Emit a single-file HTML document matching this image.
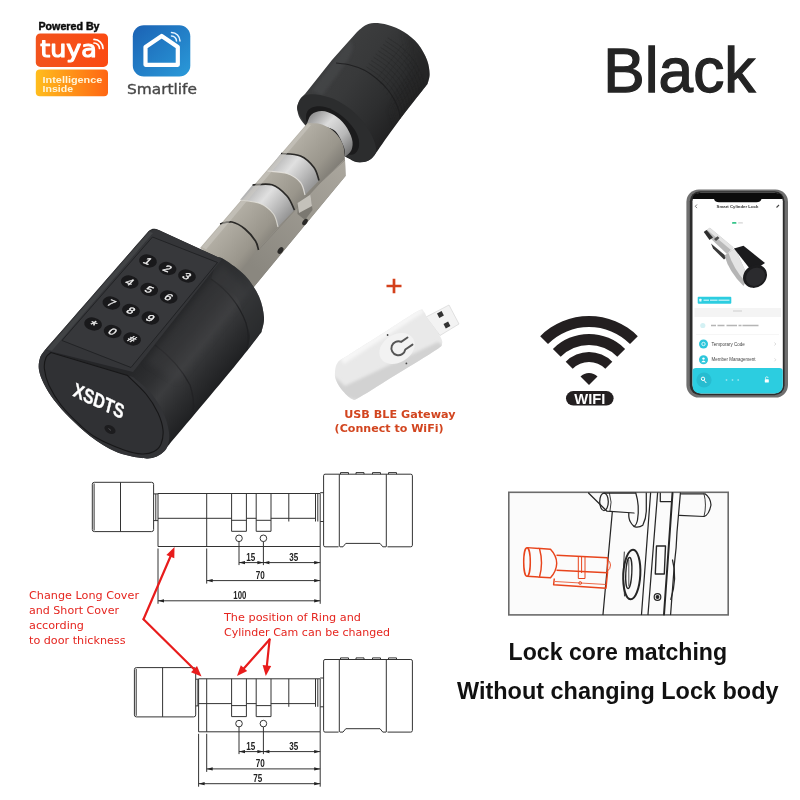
<!DOCTYPE html>
<html lang="en"><head><meta charset="utf-8"><title>Black smart cylinder lock</title>
<style>
html,body{margin:0;padding:0;background:#fff;}
body{width:800px;height:800px;overflow:hidden;}
svg{display:block;}
text{font-family:"Liberation Sans",sans-serif;}
.dj{font-family:"DejaVu Sans","Liberation Sans",sans-serif;}
.red{fill:#e5251f;}
.ln{stroke:#333;stroke-width:1;fill:none;}
</style></head><body>
<svg width="800" height="800" viewBox="0 0 800 800">
<defs>
<linearGradient id="gTuya" x1="0" y1="0" x2="1" y2="0"><stop offset="0" stop-color="#f2531d"/><stop offset="1" stop-color="#fb4a12"/></linearGradient>
<linearGradient id="gInt" x1="0" y1="0" x2="1" y2="0"><stop offset="0" stop-color="#ffbd1d"/><stop offset="1" stop-color="#ff6613"/></linearGradient>
<linearGradient id="gSl" x1="0" y1="0" x2="1" y2="1"><stop offset="0" stop-color="#1b62b4"/><stop offset="1" stop-color="#2a9ad9"/></linearGradient>
<linearGradient id="gCyl" gradientUnits="userSpaceOnUse" x1="250" y1="170" x2="300" y2="212"><stop offset="0" stop-color="#c2bfb7"/><stop offset="0.3" stop-color="#b0aca2"/><stop offset="0.75" stop-color="#9a968c"/><stop offset="1" stop-color="#7f7c75"/></linearGradient>
<linearGradient id="gPol" gradientUnits="userSpaceOnUse" x1="250" y1="170" x2="300" y2="212"><stop offset="0" stop-color="#959595"/><stop offset="0.22" stop-color="#b9b9b9"/><stop offset="0.45" stop-color="#e0e0e0"/><stop offset="0.7" stop-color="#b8b8b8"/><stop offset="1" stop-color="#858585"/></linearGradient>
<linearGradient id="gNeck" gradientUnits="userSpaceOnUse" x1="312" y1="112" x2="352" y2="150"><stop offset="0" stop-color="#8a8a8a"/><stop offset="0.35" stop-color="#dcdcdc"/><stop offset="0.7" stop-color="#b8b8b8"/><stop offset="1" stop-color="#767676"/></linearGradient>
<linearGradient id="gFlat" gradientUnits="userSpaceOnUse" x1="345" y1="160" x2="256" y2="270"><stop offset="0" stop-color="#aba79e"/><stop offset="1" stop-color="#8a877f"/></linearGradient>
<linearGradient id="gKnob" gradientUnits="userSpaceOnUse" x1="335" y1="60" x2="405" y2="112"><stop offset="0" stop-color="#3c3d3e"/><stop offset="0.3" stop-color="#38393a"/><stop offset="0.7" stop-color="#2d2e2f"/><stop offset="1" stop-color="#222223"/></linearGradient>
<linearGradient id="gBody" gradientUnits="userSpaceOnUse" x1="180" y1="310" x2="240" y2="360"><stop offset="0" stop-color="#252628"/><stop offset="0.3" stop-color="#2f3032"/><stop offset="0.5" stop-color="#3b3c3e"/><stop offset="0.75" stop-color="#2c2d2f"/><stop offset="1" stop-color="#1f2022"/></linearGradient>
<filter id="b1" x="-20%" y="-20%" width="140%" height="140%"><feGaussianBlur stdDeviation="0.6"/></filter>
<filter id="b2" x="-20%" y="-20%" width="140%" height="140%"><feGaussianBlur stdDeviation="1.5"/></filter>
<filter id="b3" x="-30%" y="-30%" width="160%" height="160%"><feGaussianBlur stdDeviation="3"/></filter>
</defs>
<rect width="800" height="800" fill="#ffffff"/>
<g style="opacity:0.999">
<g id="logos">
<text x="38.500" y="29.900" font-size="10.600" font-weight="bold" fill="#0c0c0c" stroke="#0c0c0c" stroke-width="0.45" textLength="61" lengthAdjust="spacingAndGlyphs">Powered By</text>
<rect x="35.800" y="33.500" width="72.200" height="33.400" rx="4.500" fill="url(#gTuya)"/>
<text x="40.300" y="57.400" font-size="22.500" fill="#fff" stroke="#fff" stroke-width="1.100" stroke-linejoin="round" class="dj" textLength="56.500" lengthAdjust="spacingAndGlyphs">tuya</text>
<path d="M94 43a5.500 5.500 0 0 1 5.500 5.500M94 39.400a9 9 0 0 1 9 9" stroke="#fff" stroke-width="1.700" fill="none" stroke-linecap="round"/>
<rect x="35.800" y="69.600" width="72.200" height="26.700" rx="4" fill="url(#gInt)"/>
<text x="42.600" y="82.600" font-size="9.300" font-weight="bold" fill="#fff5d8" textLength="59.700" lengthAdjust="spacingAndGlyphs">Intelligence</text>
<text x="42.600" y="92" font-size="9.300" font-weight="bold" fill="#fff5d8" textLength="30.500" lengthAdjust="spacingAndGlyphs">Inside</text>
<rect x="132.800" y="25.300" width="57.500" height="51.200" rx="11" fill="url(#gSl)"/>
<path d="M145.500 47L161.700 36L177.800 47V64.800H145.500Z" fill="none" stroke="#fff" stroke-width="4.200" stroke-linejoin="round"/>
<path d="M171.500 36a5 5 0 0 1 5 5M171.500 32.500a8.500 8.500 0 0 1 8.500 8.500" stroke="#e8f4ff" stroke-width="1.500" fill="none" stroke-linecap="round"/>
<text x="127" y="94.400" font-size="14" fill="#474747" stroke="#474747" stroke-width="0.350" class="dj" textLength="70" lengthAdjust="spacingAndGlyphs">Smartlife</text>
</g>
<text x="603.300" y="91.800" font-size="63" fill="#242424" stroke="#242424" stroke-width="1.300" textLength="152" lengthAdjust="spacingAndGlyphs">Black</text>
<g id="lock">
<clipPath id="cKnob"><path d="M357 32C358.3 30.9 362.2 27 365 25.5C367.8 24 370.2 23.1 374 23C377.8 22.9 383 23.5 388 25C393 26.5 399 28.8 404 32C409 35.2 414.2 39.3 418 44C421.8 48.7 425.1 55 427 60C428.9 65 429.5 70 429.6 74C429.7 78 427.9 82.3 427.5 84L427.5 84C422.6 90.3 406.6 110.5 398 122C389.4 133.5 379.7 147.8 376 153L376 153C375.2 154 373 157.5 371 159C369 160.5 366.5 161.5 364 162C361.5 162.5 358.7 162.7 356 162C353.3 161.3 352.3 160.5 348 158C343.7 155.5 336 151.3 330 147C324 142.7 316.8 136.5 312 132C307.2 127.5 303.4 123.5 301 120C298.6 116.5 298 113.7 297.5 111C297 108.3 297.5 106.1 298 104C298.5 101.9 299.3 100.2 300.5 98.5C301.7 96.8 304.2 94.8 305 94L305 94L332 60L332 60L357 32Z"/></clipPath>
<path d="M357 32C358.3 30.9 362.2 27 365 25.5C367.8 24 370.2 23.1 374 23C377.8 22.9 383 23.5 388 25C393 26.5 399 28.8 404 32C409 35.2 414.2 39.3 418 44C421.8 48.7 425.1 55 427 60C428.9 65 429.5 70 429.6 74C429.7 78 427.9 82.3 427.5 84L427.5 84C422.6 90.3 406.6 110.5 398 122C389.4 133.5 379.7 147.8 376 153L376 153C375.2 154 373 157.5 371 159C369 160.5 366.5 161.5 364 162C361.5 162.5 358.7 162.7 356 162C353.3 161.3 352.3 160.5 348 158C343.7 155.5 336 151.3 330 147C324 142.7 316.8 136.5 312 132C307.2 127.5 303.4 123.5 301 120C298.6 116.5 298 113.7 297.5 111C297 108.3 297.5 106.1 298 104C298.5 101.9 299.3 100.2 300.5 98.5C301.7 96.8 304.2 94.8 305 94L305 94L332 60L332 60L357 32Z" fill="url(#gKnob)"/>
<g clip-path="url(#cKnob)">
<path d="M404 30L432 60L430 90L398 128L392 110L416 76Z" fill="#252526" opacity=".55" filter="url(#b3)"/>
<path d="M312 90L350 40Q356 46 348 60L322 96Z" fill="#4c4d4f" opacity=".5" filter="url(#b2)"/>
<path d="M336 63C338.3 63.3 345.3 63.8 350 65C354.7 66.2 359.5 67.7 364 70C368.5 72.3 373 75.7 377 79C381 82.3 385 86.3 388 90C391 93.7 393.2 97.5 395 101C396.8 104.5 398.2 108 399 111C399.8 114 399.8 117.7 400 119" stroke="#1c1c1d" stroke-width="1.100" fill="none" opacity=".85"/>
<path d="M366.4 66.8C368.6 68.3 375.4 72.5 379.4 75.8C383.4 79.1 387.4 83.1 390.4 86.8C393.4 90.5 395.6 94.3 397.4 97.8C399.2 101.3 400.6 104.8 401.4 107.8C402.2 110.8 402.2 114.5 402.4 115.8M368.8 63.6C370.9 65.1 377.8 69.3 381.8 72.6C385.8 75.9 389.8 79.9 392.8 83.6C395.8 87.3 397.9 91.1 399.8 94.6C401.6 98.1 402.9 101.6 403.8 104.6C404.6 107.6 404.6 111.3 404.8 112.6M371.2 60.4C373.3 61.9 380.2 66 384.2 69.4C388.2 72.7 392.2 76.7 395.2 80.4C398.2 84 400.3 87.9 402.2 91.4C404 94.9 405.3 98.4 406.2 101.4C407 104.4 407 108 407.2 109.4M373.6 57.2C375.7 58.7 382.6 62.8 386.6 66.2C390.6 69.5 394.6 73.5 397.6 77.2C400.6 80.8 402.7 84.7 404.6 88.2C406.4 91.7 407.7 95.2 408.6 98.2C409.4 101.2 409.4 104.8 409.6 106.2M375.9 54C378.1 55.5 384.9 59.6 388.9 63C392.9 66.3 396.9 70.3 399.9 74C402.9 77.6 405.1 81.5 406.9 85C408.8 88.5 410.1 92 410.9 95C411.8 98 411.8 101.6 411.9 103M378.3 50.8C380.5 52.3 387.3 56.4 391.3 59.8C395.3 63.1 399.3 67.1 402.3 70.8C405.3 74.4 407.5 78.3 409.3 81.8C411.2 85.3 412.5 88.8 413.3 91.8C414.2 94.8 414.2 98.4 414.3 99.8M380.7 47.5C382.9 49 389.7 53.2 393.7 56.5C397.7 59.9 401.7 63.9 404.7 67.5C407.7 71.2 409.9 75 411.7 78.5C413.5 82 414.9 85.5 415.7 88.5C416.5 91.5 416.5 95.2 416.7 96.5M383.1 44.3C385.3 45.8 392.1 50 396.1 53.3C400.1 56.7 404.1 60.7 407.1 64.3C410.1 68 412.3 71.8 414.1 75.3C415.9 78.8 417.3 82.3 418.1 85.3C418.9 88.3 418.9 92 419.1 93.3M385.5 41.1C387.7 42.6 394.5 46.8 398.5 50.1C402.5 53.5 406.5 57.5 409.5 61.1C412.5 64.8 414.7 68.6 416.5 72.1C418.3 75.6 419.7 79.1 420.5 82.1C421.3 85.1 421.3 88.8 421.5 90.1M387.9 37.9C390 39.4 396.9 43.6 400.9 46.9C404.9 50.3 408.9 54.3 411.9 57.9C414.9 61.6 417 65.4 418.9 68.9C420.7 72.4 422 75.9 422.9 78.9C423.7 81.9 423.7 85.6 423.9 86.9" stroke="#202021" stroke-width="0.700" fill="none" opacity=".4"/>
<path d="M377 79L403.3 43.7M380.2 84.2L406.5 48.9M383.4 89.4L409.7 54.1M386.6 94.6L412.9 59.3M389.8 99.8L416.1 64.5M393 105L419.3 69.7M396.2 110.2L422.5 74.9M399.4 115.4L425.7 80.1M402.6 120.6L428.9 85.3" stroke="#202021" stroke-width="0.600" fill="none" opacity=".3"/>
</g>
<path d="M297.8 111C296.1 106.2 298.1 103.7 299.5 101C300.9 98.3 302.6 96 306 95C309.4 94 314.7 94 320 95C325.3 96 332 97.8 338 101C344 104.2 350.7 108.8 356 114C361.3 119.2 366.7 126.3 370 132C373.3 137.7 375.5 143.8 376 148C376.5 152.2 375.2 154.7 373 157C370.8 159.3 367.2 161.8 363 162C358.8 162.2 353.8 160.7 348 158C342.2 155.3 334.3 150.7 328 146C321.7 141.3 315 135.8 310 130C305 124.2 299.6 115.8 297.8 111Z" fill="#2c2d2e"/>
<path d="M306 116C306.3 112.8 307.8 109.5 311 108C314.2 106.5 319.8 105.7 325 107C330.2 108.3 336.8 111.8 342 116C347.2 120.2 353.2 127 356 132C358.8 137 359.5 142.2 359 146C358.5 149.8 356.2 153.5 353 154.5C349.8 155.5 345.2 154.4 340 152C334.8 149.6 327.2 144.2 322 140C316.8 135.8 311.7 131 309 127C306.3 123 305.7 119.2 306 116Z" fill="#1b1b1c"/>
<path d="M307 123.5C307.8 122 309 116.6 311.5 114.5C314 112.4 318.2 110.9 322 111C325.8 111.1 330.2 112.7 334 115C337.8 117.3 342 121 345 125C348 129 350.9 134.8 352 139C353.1 143.2 352.7 147 351.5 150C350.3 153 346.1 155.8 345 157L345 157C344.8 155.2 345.5 150.6 343.5 146C341.5 141.4 339.1 133.2 333 129.5C326.9 125.8 311.3 124.5 307 123.5Z" fill="url(#gNeck)"/>
<path d="M200 248L307.5 123L307.5 123C309.9 123.2 317.4 122.9 322 124.5C326.6 126.1 331.5 129.1 335 132.5C338.5 135.9 341.3 140.4 343 145C344.7 149.6 344.7 157.5 345 160L345 160L345.5 176L345.5 176L253 288Z" fill="url(#gCyl)"/>
<path d="M345 159L345.5 176L253 288L236 276L258 249L320 183Z" fill="url(#gFlat)"/>
<path d="M345 160L320 183L258.500 250" stroke="#7d7a73" stroke-width="0.8" fill="none" opacity=".7"/>
<path d="M281 153.5C284.2 153.9 295 153.7 300.5 156C306 158.3 310.9 163.4 314 167.5C317.1 171.6 318.2 178.3 319 180.5L305 195C304.2 192.9 303.5 186.1 300.5 182.5C297.5 178.9 292.5 175.4 287 173.5C281.5 171.6 270.8 171.4 267.5 171Z" fill="url(#gPol)"/>
<path d="M252.5 185C255.8 185 266.2 183 272 184.8C277.8 186.6 283.2 191.8 287 196C290.8 200.2 293.2 207.7 294.5 210L278 227C277.2 224.8 276.5 217.9 273.5 214C270.5 210.1 265.6 205.8 260 203.5C254.4 201.2 243.3 200.6 240 200Z" fill="url(#gPol)"/>
<path d="M281 153.5C284.2 153.9 295 153.7 300.5 156C306 158.3 310.9 163.4 314 167.5C317.1 171.6 318.2 178.3 319 180.5" stroke="#2a2927" stroke-width="1.700" fill="none"/>
<path d="M252.5 185C255.8 185 266.2 183 272 184.8C277.8 186.6 283.2 191.8 287 196C290.8 200.2 293.2 207.7 294.5 210" stroke="#2a2927" stroke-width="1.700" fill="none"/>
<path d="M220 223.8C222 223.5 227.8 221.1 232 222C236.2 222.9 241.1 225.8 245 229C248.9 232.2 253.2 237.5 255.5 241C257.8 244.5 258 248.5 258.5 250" stroke="#2a2927" stroke-width="1.700" fill="none"/>
<path d="M267.5 171C270.8 171.4 281.5 171.6 287 173.5C292.5 175.4 297.5 178.9 300.5 182.5C303.5 186.1 304.2 192.9 305 195" stroke="#ebe9e3" stroke-width="1.2" fill="none" opacity=".8"/>
<path d="M240 200C243.3 200.6 254.4 201.2 260 203.5C265.6 205.8 270.5 210.1 273.5 214C276.5 217.9 277.2 224.8 278 227" stroke="#ebe9e3" stroke-width="1.2" fill="none" opacity=".7"/>
<path d="M202 247L307.500 124L311 125L206 249.500Z" fill="#cfccc5" opacity=".5" filter="url(#b1)"/>
<path d="M297.500 214L297.500 203L310.500 194.500L312.500 210L305 220Z" fill="#7b7871"/>
<path d="M297.500 203L310.500 194.500L312 206L299 213Z" fill="#c4c1ba"/>
<ellipse cx="305" cy="222" rx="2.200" ry="3.600" transform="rotate(35 305 222)" fill="#2a2927"/>
<ellipse cx="280.500" cy="250.500" rx="2.400" ry="3.800" transform="rotate(35 280.500 250.500)" fill="#2a2927"/>
<path d="M148.8 231C149.3 230.7 150.8 229.3 152 229C153.2 228.7 154.5 228.7 156 229C157.5 229.3 160.2 230.7 161 231L161 231L217.5 257L217.5 257C218.8 257.5 220.4 256.9 225 260C229.6 263.1 239.3 269.4 245 275.5C250.7 281.6 255.8 289.5 259 296.5C262.2 303.5 263.6 311.6 264 317.5C264.4 323.4 261.9 329.6 261.5 332L261.5 332C257 337.8 250.2 347.4 234.5 366.5C218.8 385.6 178.7 433.2 167.5 446.5L167.5 446.5C166.4 447.8 163.6 452.1 161 454C158.4 455.9 155.2 457.3 152 458C148.8 458.7 146.3 458.5 142 458C137.7 457.5 131.3 456.5 126 455C120.7 453.5 116 452.2 110 449C104 445.8 96.7 441.2 90 436C83.3 430.8 76 424 70 418C64 412 58.3 405.7 54 400C49.7 394.3 46.5 389 44 384C41.5 379 39.7 374.3 39 370C38.3 365.7 39 361.3 40 358C41 354.7 44.2 351.3 45 350L45 350C54.2 339.5 82.7 306.8 100 287C117.3 267.2 140.7 240.3 148.8 231Z" fill="url(#gBody)"/>
<path d="M217.5 257C218.8 257.5 220.4 256.9 225 260C229.6 263.1 239.3 269.4 245 275.5C250.7 281.6 255.8 289.5 259 296.5C262.2 303.5 263.6 311.6 264 317.5C264.4 323.4 261.9 329.6 261.5 332L261.5 332L247 350L247 350C247.5 347.7 250.2 340.5 250 336C249.8 331.5 248.3 329.7 246 323C243.7 316.3 241.8 303.3 236 296C230.2 288.7 215.2 281.8 211 279Z" fill="#323335" opacity=".55"/>
<path d="M148.8 231L156 229L222 259L133 372L45 350Z" fill="#343538"/>
<path d="M47 349.500L149.500 231.500L153 233L52 350.500Z" fill="#47484b" opacity=".7" filter="url(#b1)"/>
<path d="M152.5 237L217.5 262.5L131 367.5L62 340.5Z" fill="#37383b" stroke="#1f2022" stroke-width="0.9" stroke-linejoin="round"/>
<path d="M45 350L133 377L133 377C135.8 379.5 145 386.2 150 392C155 397.8 159.8 405.3 163 412C166.2 418.7 168.2 426.2 169 432C169.8 437.8 168.8 442.8 167.5 446.5C166.2 450.2 163.6 452.1 161 454C158.4 455.9 155.2 457.3 152 458C148.8 458.7 146.3 458.5 142 458C137.7 457.5 131.3 456.5 126 455C120.7 453.5 116 452.2 110 449C104 445.8 96.7 441.2 90 436C83.3 430.8 76 424 70 418C64 412 58.3 405.7 54 400C49.7 394.3 46.5 389 44 384C41.5 379 39.7 374.3 39 370C38.3 365.7 39 361.3 40 358C41 354.7 44.2 351.3 45 350Z" fill="#323336"/>
<path d="M51 352.5L127.5 375.5L127.5 375.5C130.6 378.6 140.9 387.8 146 394C151.1 400.2 155.2 407 158 413C160.8 419 162.5 424.8 163 430C163.5 435.2 162.5 440.4 161 444C159.5 447.6 157.2 449.8 154 451.5C150.8 453.2 147 454.2 142 454C137 453.8 131.7 452.8 124 450C116.3 447.2 103.3 441.7 96 437.5C88.7 433.3 85.8 430.4 80 425C74.2 419.6 66.2 411.7 61 405C55.8 398.3 51.6 391 48.8 385C46 379 44.9 373.4 44.4 368.8C43.9 364.2 44.9 360.2 46 357.5C47.1 354.8 50.2 353.3 51 352.5Z" fill="#303134" stroke="#171718" stroke-width="1.100"/>
<path d="M211 279Q236 296 246 323Q250 336 247 350" stroke="#202123" stroke-width="1.200" fill="none"/>
<path d="M155 345Q178 362 190 385Q195 400 193 412" stroke="#202123" stroke-width="1.200" fill="none" opacity=".8"/>
<path d="M222 264L248 292L178 382L146 362Z" fill="#444547" opacity=".3" filter="url(#b3)"/>
<ellipse cx="148" cy="261" rx="9" ry="6.500" transform="rotate(12 148 261)" fill="#19191b"/><text transform="matrix(1.060 0.410 -0.700 0.720 148 261)" x="0" y="3.7" text-anchor="middle" font-size="10.6" fill="#f2f2f2" stroke="#f2f2f2" stroke-width="0.350">1</text>
<ellipse cx="167.5" cy="268.5" rx="9" ry="6.500" transform="rotate(12 167.5 268.5)" fill="#19191b"/><text transform="matrix(1.060 0.410 -0.700 0.720 167.5 268.5)" x="0" y="3.7" text-anchor="middle" font-size="10.6" fill="#f2f2f2" stroke="#f2f2f2" stroke-width="0.350">2</text>
<ellipse cx="187" cy="276" rx="9" ry="6.500" transform="rotate(12 187 276)" fill="#19191b"/><text transform="matrix(1.060 0.410 -0.700 0.720 187 276)" x="0" y="3.7" text-anchor="middle" font-size="10.6" fill="#f2f2f2" stroke="#f2f2f2" stroke-width="0.350">3</text>
<ellipse cx="129.7" cy="282" rx="9" ry="6.500" transform="rotate(12 129.7 282)" fill="#19191b"/><text transform="matrix(1.060 0.410 -0.700 0.720 129.7 282)" x="0" y="3.7" text-anchor="middle" font-size="10.6" fill="#f2f2f2" stroke="#f2f2f2" stroke-width="0.350">4</text>
<ellipse cx="149.2" cy="289.5" rx="9" ry="6.500" transform="rotate(12 149.2 289.5)" fill="#19191b"/><text transform="matrix(1.060 0.410 -0.700 0.720 149.2 289.5)" x="0" y="3.7" text-anchor="middle" font-size="10.6" fill="#f2f2f2" stroke="#f2f2f2" stroke-width="0.350">5</text>
<ellipse cx="168.7" cy="297" rx="9" ry="6.500" transform="rotate(12 168.7 297)" fill="#19191b"/><text transform="matrix(1.060 0.410 -0.700 0.720 168.7 297)" x="0" y="3.7" text-anchor="middle" font-size="10.6" fill="#f2f2f2" stroke="#f2f2f2" stroke-width="0.350">6</text>
<ellipse cx="111.4" cy="303" rx="9" ry="6.500" transform="rotate(12 111.4 303)" fill="#19191b"/><text transform="matrix(1.060 0.410 -0.700 0.720 111.4 303)" x="0" y="3.7" text-anchor="middle" font-size="10.6" fill="#f2f2f2" stroke="#f2f2f2" stroke-width="0.350">7</text>
<ellipse cx="130.9" cy="310.5" rx="9" ry="6.500" transform="rotate(12 130.9 310.5)" fill="#19191b"/><text transform="matrix(1.060 0.410 -0.700 0.720 130.9 310.5)" x="0" y="3.7" text-anchor="middle" font-size="10.6" fill="#f2f2f2" stroke="#f2f2f2" stroke-width="0.350">8</text>
<ellipse cx="150.4" cy="318" rx="9" ry="6.500" transform="rotate(12 150.4 318)" fill="#19191b"/><text transform="matrix(1.060 0.410 -0.700 0.720 150.4 318)" x="0" y="3.7" text-anchor="middle" font-size="10.6" fill="#f2f2f2" stroke="#f2f2f2" stroke-width="0.350">9</text>
<ellipse cx="93.1" cy="324" rx="9" ry="6.500" transform="rotate(12 93.1 324)" fill="#19191b"/><text transform="matrix(1.060 0.410 -0.700 0.720 93.1 324)" x="0" y="5.6" text-anchor="middle" font-size="14" fill="#f2f2f2" stroke="#f2f2f2" stroke-width="0.350">*</text>
<ellipse cx="112.6" cy="331.5" rx="9" ry="6.500" transform="rotate(12 112.6 331.5)" fill="#19191b"/><text transform="matrix(1.060 0.410 -0.700 0.720 112.6 331.5)" x="0" y="3.7" text-anchor="middle" font-size="10.6" fill="#f2f2f2" stroke="#f2f2f2" stroke-width="0.350">0</text>
<ellipse cx="132.1" cy="339" rx="9" ry="6.500" transform="rotate(12 132.1 339)" fill="#19191b"/><text transform="matrix(1.060 0.410 -0.700 0.720 132.1 339)" x="0" y="3.7" text-anchor="middle" font-size="10.6" fill="#f2f2f2" stroke="#f2f2f2" stroke-width="0.350">#</text>
<text transform="matrix(0.906 0.423 -0.28 1.1 72.300 395.800)" font-size="17.500" font-weight="bold" fill="#fff" stroke="#fff" stroke-width="0.300" textLength="55" lengthAdjust="spacingAndGlyphs">XSDTS</text>
<ellipse cx="110" cy="429.500" rx="6" ry="4" transform="rotate(30 110 429.500)" fill="#1c1c1e"/>
<path d="M108.500 428.500L111 430.500" stroke="#5a5a5e" stroke-width="0.8"/>
</g>
<path d="M386.500 286H401.500M394 278.700V293.300" stroke="#d4411c" stroke-width="2.700" fill="none"/>
<g id="usb">
<path d="M426 317L449 305L459 324L440 335.5Z" fill="#f3f3f3" stroke="#d6d6d6" stroke-width="0.7"/>
<path d="M437 313.500l4.600-2.400 2.300 4.400-4.600 2.400zM443.500 324l4.600-2.400 2.300 4.400-4.600 2.400z" fill="#333"/>
<clipPath id="cUsb"><path d="M335 372C335.3 369 335.5 365 338 362C340.5 359 342.3 358.9 350 354C357.7 349.1 372.7 339.7 384 332.5C395.3 325.3 411.3 314.4 418 311C424.7 307.6 422.3 310.7 424 312C425.7 313.3 425.3 315 428 319C430.7 323 437.7 331.8 440 336C442.3 340.2 442.7 341.7 442 344C441.3 346.3 443.3 345.1 436 350C428.7 354.9 410.7 365.7 398 373.5C385.3 381.3 367.7 392.8 360 397C352.3 401.2 355 400.2 352 399C349 397.8 344.7 393.2 342 390C339.3 386.8 337.2 383 336 380C334.8 377 334.7 375 335 372Z"/></clipPath>
<path d="M335 372C335.3 369 335.5 365 338 362C340.5 359 342.3 358.9 350 354C357.7 349.1 372.7 339.7 384 332.5C395.3 325.3 411.3 314.4 418 311C424.7 307.6 422.3 310.7 424 312C425.7 313.3 425.3 315 428 319C430.7 323 437.7 331.8 440 336C442.3 340.2 442.7 341.7 442 344C441.3 346.3 443.3 345.1 436 350C428.7 354.9 410.7 365.7 398 373.5C385.3 381.3 367.7 392.8 360 397C352.3 401.2 355 400.2 352 399C349 397.8 344.7 393.2 342 390C339.3 386.8 337.2 383 336 380C334.8 377 334.7 375 335 372Z" fill="#e9e9e9"/>
<g clip-path="url(#cUsb)"><path d="M334 376L345 386L438 342L446 348L360 401L340 396Z" fill="#d2d2d2" filter="url(#b2)"/>
<path d="M340 358L420 308L424 312L344 364Z" fill="#f6f6f6" filter="url(#b2)"/></g>
<ellipse cx="397" cy="348.500" rx="19" ry="14" transform="rotate(-32 397 348.500)" fill="#f2f2f2"/>
<path d="M407.500 337.500L401.200 341.800A7 7 0 1 0 405.300 349.500L412.500 344.600" stroke="#555" stroke-width="1.900" fill="none" stroke-linecap="round"/>
<circle cx="387.600" cy="335" r="0.9" fill="#444"/><circle cx="406.400" cy="363.400" r="0.9" fill="#444"/>
</g>
<text x="344.200" y="417.500" class="dj" font-size="11" font-weight="bold" fill="#d2451f" textLength="111.300" lengthAdjust="spacingAndGlyphs">USB BLE Gateway</text>
<text x="334.600" y="432.100" class="dj" font-size="11" font-weight="bold" fill="#d2451f" textLength="109" lengthAdjust="spacingAndGlyphs">(Connect to WiFi)</text>
<g id="wifi" fill="#231f20">
<path d="M540.2 336.2A69 69 0 0 1 637.8 336.2L630 344A58 58 0 0 0 548 344Z"/>
<path d="M552.9 348.9A51 51 0 0 1 625.1 348.9L617.3 356.7A40 40 0 0 0 560.7 356.7Z"/>
<path d="M565.7 361.7A33 33 0 0 1 612.3 361.7L605.3 368.7A23 23 0 0 0 572.7 368.7Z"/>
<path d="M589 385L580.5 376.5A12 12 0 0 1 597.5 376.5Z"/>
<rect x="566" y="391" width="47.600" height="14.600" rx="7.300"/>
<text x="589.800" y="403.500" text-anchor="middle" font-size="14.300" font-weight="bold" fill="#fff" textLength="31" lengthAdjust="spacingAndGlyphs">WIFI</text>
</g>
<g id="phone">
<rect x="686.400" y="189.400" width="101.600" height="208.200" rx="12.500" fill="#6f6f6f"/>
<rect x="689.800" y="191.300" width="94.800" height="204" rx="10" fill="#2c2c2c"/>
<rect x="692.500" y="192.800" width="90.300" height="200.800" rx="8.500" fill="#ffffff"/>
<path d="M701 192.800H774.300Q782.800 192.800 782.800 199H761.500Q760.500 202.300 756.500 202.300H719Q715 202.300 714 199H692.500Q692.500 192.800 701 192.800Z" fill="#0c0c0c"/>
<text x="737.500" y="207.800" text-anchor="middle" font-size="4.300" font-weight="bold" fill="#333">Smart Cylinder Lock</text>
<path d="M697 204.500L695.300 206.300L697 208.100" stroke="#444" stroke-width="0.7" fill="none"/>
<path d="M776.500 207.500L779 205" stroke="#444" stroke-width="1.100" fill="none"/>
<rect x="732" y="222" width="4.500" height="1.800" rx="0.9" fill="#35c48a"/>
<rect x="738" y="222.200" width="5" height="1.400" rx="0.7" fill="#d5d5d5"/>
<g id="minilock">
<path d="M703.800 232L709.800 227.800L733.500 247.500L727 254Z" fill="#b9b9b9"/>
<path d="M707 229.800L709.800 227.800L733.500 247.500L731 250Z" fill="#e3e3e3"/>
<path d="M703.800 232L706.500 230L713 237.500L709.500 240Z" fill="#2d2d2d"/>
<path d="M714 239L717.500 236.300L719.500 238L716 241Z" fill="#4a4a4a"/>
<path d="M711 243.500L727 257L724 259.500L713 248.500Z" fill="#3a3a3a"/>
<path d="M724.500 255.500L735 248L748 277L743.500 286Q729 272 724.500 255.500Z" fill="#b5b5b5"/>
<path d="M728.500 253L735 248.300L748 277L745.500 282Q733 268 728.500 253Z" fill="#e4e4e4"/>
<path d="M734 248.500L743.500 245.800L765 263L752 271.500Z" fill="#1b1b1d"/>
<ellipse cx="755" cy="276.300" rx="12.500" ry="11" transform="rotate(-38 755 276.300)" fill="#1c1c1e"/>
<ellipse cx="755.500" cy="276.800" rx="10" ry="8.600" transform="rotate(-38 755.500 276.800)" fill="#2b2b2e"/>
</g>
<rect x="697.700" y="296.800" width="33.600" height="7" rx="1" fill="#2ccde0"/>
<rect x="699.300" y="298.800" width="2.200" height="2.800" rx="0.5" fill="#e9fbfd"/><path d="M703.500 300.300H709M710 300.300H717.500M718.500 300.300H729.500" stroke="#c9f4f9" stroke-width="1.500" opacity=".8"/>
<rect x="694.500" y="308" width="86.500" height="9" fill="#f4f4f4"/>
<path d="M733 311H742" stroke="#d4d4d4" stroke-width="1.200"/>
<circle cx="702.800" cy="325.500" r="2.600" fill="#d4f1f4"/>
<path d="M711 325.500H716M717.500 325.500H724.500M726.500 325.500H737M738.500 325.500H741.500M742.500 325.500H758.500" stroke="#a9a9a9" stroke-width="1.500" opacity=".85"/>
<rect x="696" y="334.300" width="83" height="0.5" fill="#ececec"/>
<circle cx="703.500" cy="344" r="4.500" fill="#2cc6db"/><circle cx="703.500" cy="344" r="1.700" fill="none" stroke="#fff" stroke-width="0.8"/>
<text x="711.500" y="345.600" font-size="4.500" fill="#444">Temporary Code</text>
<circle cx="703.500" cy="359.800" r="4.500" fill="#2cc6db"/><circle cx="703.500" cy="358.600" r="1.200" fill="#fff"/><path d="M701.300 362.200Q703.500 358.800 705.700 362.200Z" fill="#fff"/>
<text x="711.500" y="361.400" font-size="4.500" fill="#444">Member Management</text>
<path d="M774.500 342.500L775.800 344L774.500 345.500M774.500 358.300L775.800 359.800L774.500 361.300" stroke="#c4c4c4" stroke-width="0.6" fill="none"/>
<path d="M692.500 371Q692.500 368 696 368H779.300Q782.800 368 782.800 371V385.100Q782.800 393.600 774.300 393.600H701Q692.500 393.600 692.500 385.100Z" fill="#2ccde0"/>
<circle cx="704" cy="380" r="7.600" fill="#27bcd0"/>
<circle cx="703" cy="378.800" r="1.700" fill="none" stroke="#fff" stroke-width="1"/><path d="M704 380.200L706.300 383" stroke="#fff" stroke-width="1" fill="none"/>
<circle cx="726.500" cy="380" r="0.9" fill="#8fe3ee"/><circle cx="732.500" cy="380" r="0.9" fill="#8fe3ee"/><circle cx="738.200" cy="380" r="0.9" fill="#8fe3ee"/>
<rect x="764.800" y="379.300" width="4" height="3.300" rx="0.6" fill="#fff"/><path d="M765.500 379.300V378.200A1.300 1.300 0 0 1 768.100 378" stroke="#fff" stroke-width="0.7" fill="none"/>
</g>
<g id="diag1">
<rect x="92.3" y="482.3" width="61.3" height="49.300" rx="2" class="ln"/>
<path d="M120.5 482.3V531.6" class="ln" stroke-width="1.2"/>
<path d="M94.1 483.5V530.5" class="ln" stroke-width="0.6"/>
<path d="M153.6 493.9H158M153.6 520.6H158M155.8 493.9V520.6" class="ln" stroke-width="0.8"/>
<path d="M158 493.5H320.200V546.5H158Z" class="ln"/>
<path d="M206.700 493.5V546.5" class="ln" stroke-width="1.2"/>
<path d="M158 518.3H231.600M246.800 518.3H256.200M270.800 518.3H315.500" class="ln" stroke-width="0.9"/>
<path d="M231.6 493.5V531.3H246.4V493.5M231.6 520.3H246.4" class="ln"/>
<path d="M256.2 493.5V531.3H271V493.5M256.2 520.3H271" class="ln"/>
<circle cx="239" cy="538.3" r="3.300" class="ln" stroke-width="0.9"/>
<path d="M239 541.6V565.1" class="ln" stroke-width="0.8"/>
<circle cx="263.4" cy="538.3" r="3.300" class="ln" stroke-width="0.9"/>
<path d="M263.4 541.6V565.1" class="ln" stroke-width="0.8"/>
<path d="M288.800 493.5V521.5" class="ln" stroke-width="1.800"/>
<path d="M315.500 493.5V521.5M317.800 493.5V521.5M320.200 492.7H323.800M320.200 521.5H323.800" class="ln" stroke-width="0.9"/>
<path d="M338.500 546.8H325Q323.600 546.8 323.600 545.2V475.8Q323.600 474.2 325 474.2H410.800Q412.400 474.2 412.400 475.8V545.2Q412.400 546.8 410.800 546.8H387.500" class="ln"/>
<path d="M339.300 474.2V546.8M386.300 474.2V546.8" class="ln" stroke-width="2.100"/>
<path d="M340 546.8H343L345.800 543.4H380L382.800 546.8H386" class="ln" stroke-width="1.100"/>
<path d="M340.5 474.2V472.6H348.5V474.2" class="ln" stroke-width="0.8"/>
<path d="M356 474.2V472.6H364V474.2" class="ln" stroke-width="0.8"/>
<path d="M372.5 474.2V472.6H380.5V474.2" class="ln" stroke-width="0.8"/>
<path d="M388.5 474.2V472.6H396.5V474.2" class="ln" stroke-width="0.8"/>
<path d="M239 562.6H320.200" class="ln" stroke-width="0.8"/>
<path d="M263.4 562.6l-6 -1.600v3.200z" fill="#222"/>
<path d="M263.4 562.6l6 -1.600v3.200z" fill="#222"/>
<path d="M320.2 562.6l-6 -1.600v3.200z" fill="#222"/>
<path d="M239 562.6l6 -1.600v3.200z" fill="#222"/>
<path d="M320.200 546.5V603.8" class="ln" stroke-width="0.8"/>
<text x="250.800" y="560.5" text-anchor="middle" font-size="10.500" font-weight="bold" fill="#222" font-family="Liberation Serif,serif" textLength="9" lengthAdjust="spacingAndGlyphs">15</text>
<text x="293.800" y="560.5" text-anchor="middle" font-size="10.500" font-weight="bold" fill="#222" font-family="Liberation Serif,serif" textLength="9" lengthAdjust="spacingAndGlyphs">35</text>
<path d="M206.7 580.6H320.200" class="ln" stroke-width="0.8"/>
<path d="M206.7 580.6l6 -1.600v3.200z" fill="#222"/>
<path d="M320.2 580.6l-6 -1.600v3.200z" fill="#222"/>
<path d="M206.7 548.5V583.6" class="ln" stroke-width="0.8"/>
<text x="260.3" y="578.5" text-anchor="middle" font-size="10.500" font-weight="bold" fill="#222" font-family="Liberation Serif,serif" textLength="9" lengthAdjust="spacingAndGlyphs">70</text>
<path d="M158 600.8H320.200" class="ln" stroke-width="0.8"/>
<path d="M158 600.8l6 -1.600v3.200z" fill="#222"/>
<path d="M320.2 600.8l-6 -1.600v3.200z" fill="#222"/>
<path d="M158 548.5V603.8" class="ln" stroke-width="0.8"/>
<text x="239.8" y="598.7" text-anchor="middle" font-size="10.500" font-weight="bold" fill="#222" font-family="Liberation Serif,serif" textLength="13" lengthAdjust="spacingAndGlyphs">100</text>
</g>
<g id="diag2">
<rect x="134.4" y="667.6" width="61.3" height="49.300" rx="2" class="ln"/>
<path d="M162.6 667.6V716.9" class="ln" stroke-width="1.2"/>
<path d="M136.2 668.8V715.8" class="ln" stroke-width="0.6"/>
<path d="M195.7 679.2H198.6M195.7 705.9H198.6M197.9 679.2V705.9" class="ln" stroke-width="0.8"/>
<path d="M198.6 678.8H320.200V731.8H198.6Z" class="ln"/>
<path d="M206.700 678.8V731.8" class="ln" stroke-width="1.2"/>
<path d="M198.6 703.6H231.600M246.800 703.6H256.200M270.800 703.6H315.500" class="ln" stroke-width="0.9"/>
<path d="M231.6 678.8V716.6H246.4V678.8M231.6 705.6H246.4" class="ln"/>
<path d="M256.2 678.8V716.6H271V678.8M256.2 705.6H271" class="ln"/>
<circle cx="239" cy="723.6" r="3.300" class="ln" stroke-width="0.9"/>
<path d="M239 726.9V754.1" class="ln" stroke-width="0.8"/>
<circle cx="263.4" cy="723.6" r="3.300" class="ln" stroke-width="0.9"/>
<path d="M263.4 726.9V754.1" class="ln" stroke-width="0.8"/>
<path d="M288.800 678.8V706.8" class="ln" stroke-width="1.800"/>
<path d="M315.500 678.8V706.8M317.800 678.8V706.8M320.200 678H323.800M320.200 706.8H323.800" class="ln" stroke-width="0.9"/>
<path d="M338.500 732.1H325Q323.600 732.1 323.600 730.5V661.1Q323.600 659.5 325 659.5H410.800Q412.400 659.5 412.400 661.1V730.5Q412.400 732.1 410.800 732.1H387.500" class="ln"/>
<path d="M339.300 659.5V732.1M386.300 659.5V732.1" class="ln" stroke-width="2.100"/>
<path d="M340 732.1H343L345.800 728.7H380L382.800 732.1H386" class="ln" stroke-width="1.100"/>
<path d="M340.5 659.5V657.9H348.5V659.5" class="ln" stroke-width="0.8"/>
<path d="M356 659.5V657.9H364V659.5" class="ln" stroke-width="0.8"/>
<path d="M372.5 659.5V657.9H380.5V659.5" class="ln" stroke-width="0.8"/>
<path d="M388.5 659.5V657.9H396.5V659.5" class="ln" stroke-width="0.8"/>
<path d="M239 751.6H320.200" class="ln" stroke-width="0.8"/>
<path d="M263.4 751.6l-6 -1.600v3.200z" fill="#222"/>
<path d="M263.4 751.6l6 -1.600v3.200z" fill="#222"/>
<path d="M320.2 751.6l-6 -1.600v3.200z" fill="#222"/>
<path d="M239 751.6l6 -1.600v3.200z" fill="#222"/>
<path d="M320.200 731.8V786.7" class="ln" stroke-width="0.8"/>
<text x="250.800" y="749.5" text-anchor="middle" font-size="10.500" font-weight="bold" fill="#222" font-family="Liberation Serif,serif" textLength="9" lengthAdjust="spacingAndGlyphs">15</text>
<text x="293.800" y="749.5" text-anchor="middle" font-size="10.500" font-weight="bold" fill="#222" font-family="Liberation Serif,serif" textLength="9" lengthAdjust="spacingAndGlyphs">35</text>
<path d="M206.7 768.9H320.200" class="ln" stroke-width="0.8"/>
<path d="M206.7 768.9l6 -1.600v3.200z" fill="#222"/>
<path d="M320.2 768.9l-6 -1.600v3.200z" fill="#222"/>
<path d="M206.7 733.8V771.9" class="ln" stroke-width="0.8"/>
<text x="260.3" y="766.8" text-anchor="middle" font-size="10.500" font-weight="bold" fill="#222" font-family="Liberation Serif,serif" textLength="9" lengthAdjust="spacingAndGlyphs">70</text>
<path d="M198.6 783.7H320.200" class="ln" stroke-width="0.8"/>
<path d="M198.6 783.7l6 -1.600v3.200z" fill="#222"/>
<path d="M320.2 783.7l-6 -1.600v3.200z" fill="#222"/>
<path d="M198.6 733.8V786.7" class="ln" stroke-width="0.8"/>
<text x="257.8" y="781.6" text-anchor="middle" font-size="10.500" font-weight="bold" fill="#222" font-family="Liberation Serif,serif" textLength="9" lengthAdjust="spacingAndGlyphs">75</text>
</g>
<g id="notes" class="dj" font-size="11.200">
<text x="29" y="599.300" class="red dj" textLength="110" lengthAdjust="spacingAndGlyphs">Change Long Cover</text>
<text x="29" y="614.300" class="red dj" textLength="90" lengthAdjust="spacingAndGlyphs">and Short Cover</text>
<text x="29" y="629.300" class="red dj" textLength="55" lengthAdjust="spacingAndGlyphs">according</text>
<text x="29" y="644.300" class="red dj" textLength="96.500" lengthAdjust="spacingAndGlyphs">to door thickness</text>
<text x="224" y="620.600" class="red dj" textLength="137" lengthAdjust="spacingAndGlyphs">The position of Ring and</text>
<text x="224" y="635.600" class="red dj" textLength="166" lengthAdjust="spacingAndGlyphs">Cylinder Cam can be changed</text>
</g>
<g id="arrows">
<path d="M143.5 619.3L171.2 554.8" stroke="#e81c1c" stroke-width="2.2" fill="none" stroke-linecap="round"/><path d="M174.5 547L174.3 558.3L166.4 555Z" fill="#e81c1c"/>
<path d="M143.5 619.3L195.4 670.5" stroke="#e81c1c" stroke-width="2.2" fill="none" stroke-linecap="round"/><path d="M201.5 676.5L191 672.2L197 666.1Z" fill="#e81c1c"/>
<path d="M269.6 639.5L242.7 669.7" stroke="#e81c1c" stroke-width="2.2" fill="none" stroke-linecap="round"/><path d="M237 676L240.8 665.3L247.2 671Z" fill="#e81c1c"/>
<path d="M269.6 639.5L266.7 667.5" stroke="#e81c1c" stroke-width="2.2" fill="none" stroke-linecap="round"/><path d="M265.8 676L262.6 665.1L271.2 666Z" fill="#e81c1c"/>
</g>
<g id="doorbox">
<rect x="508.800" y="492.300" width="219.400" height="122.600" fill="#fbfbfb" stroke="#6b6b6b" stroke-width="1.600"/>
<g stroke="#262626" fill="none" stroke-width="1.250" stroke-linecap="round" stroke-linejoin="round">
<path d="M612.300 512L603 614.500"/>
<path d="M650.600 493L641.500 614.500M657.600 493L648 614.500"/>
<path d="M672.500 493L664 614.500" stroke-width="2"/>
<path d="M680.400 493L677 532Q676.500 548 674.400 563.800L670.600 614.500"/>
<path d="M588.500 493L607 511.200L634 513"/>
<path d="M604 493H635.500"/>
<ellipse cx="604" cy="501.800" rx="4.300" ry="8.800"/>
<path d="M609.500 493.200Q612.500 502 610 511.300" stroke-width="0.9"/>
<path d="M635.800 493Q639.800 506 637.500 520Q636.500 525 634 526.500"/>
<path d="M628.800 513Q628.500 519 630.500 522Q633 526.500 636 527.200Q640 527.500 642.800 525.300Q646 519 646.300 511.300V493"/>
<path d="M681.300 493.800H704M679.500 515.300L704 516.500Q709 515 711 505Q710.500 497.500 705 493.800"/>
<path d="M704 493.800Q707 505 704 516.500" stroke-width="0.9"/>
<path d="M660.300 493V501.600H671.600"/>
<ellipse cx="631.800" cy="574.500" rx="8.500" ry="24.800" transform="rotate(3 631.800 574.500)" stroke-width="2"/>
<ellipse cx="628.800" cy="573" rx="3" ry="15.500" transform="rotate(3 628.800 573)" stroke-width="1.300"/>
<path d="M628.800 560V586" stroke-width="0.8"/>
<path d="M624.300 552Q622 574 624.500 596" stroke-width="0.9"/>
<path d="M656.500 546H665.500L664.300 574H655.300Z" stroke-width="1.400"/>
<circle cx="657.500" cy="597" r="3.300" stroke-width="1.200"/><circle cx="657.500" cy="597" r="1.300" fill="#262626"/>
<path d="M672.500 560Q677.500 578 670.800 599.400"/>
</g>
<g stroke="#e8441c" fill="none" stroke-width="1.450" stroke-linejoin="round">
<path d="M556.500 555.300L607.500 557.800V572.800L556.500 570.300"/>
<path d="M554.300 578.500L553.600 584.800L606 588.300L607.500 572.800"/>
<path d="M555 581.500L606 584.500" stroke-width="0.8"/>
<path d="M578.300 556.800V578.500H585V557M581.600 557V573" stroke-width="1"/>
<circle cx="580.200" cy="583" r="1.400" stroke-width="0.9"/>
<path d="M607.500 559.500Q610.500 562 610.500 565Q610.500 569 607.500 571" stroke-width="0.9"/>
<path d="M527 547.600L550.500 549.300Q556.800 556 556.700 563.500Q556.500 571 550.500 577.800L527 576.300" fill="#fbfbfb"/>
<ellipse cx="527" cy="562" rx="3.300" ry="14.300" stroke-width="1.500" fill="#fbfbfb"/>
<path d="M539.500 548.500Q543.500 563 539.500 577"/>
</g>
</g>
<text x="508.600" y="660.200" font-size="23.800" font-weight="bold" fill="#111" textLength="218.500" lengthAdjust="spacingAndGlyphs">Lock core matching</text>
<text x="457" y="699.300" font-size="23.800" font-weight="bold" fill="#111" textLength="321.500" lengthAdjust="spacingAndGlyphs">Without changing Lock body</text>
</g>
</svg>
</body></html>
